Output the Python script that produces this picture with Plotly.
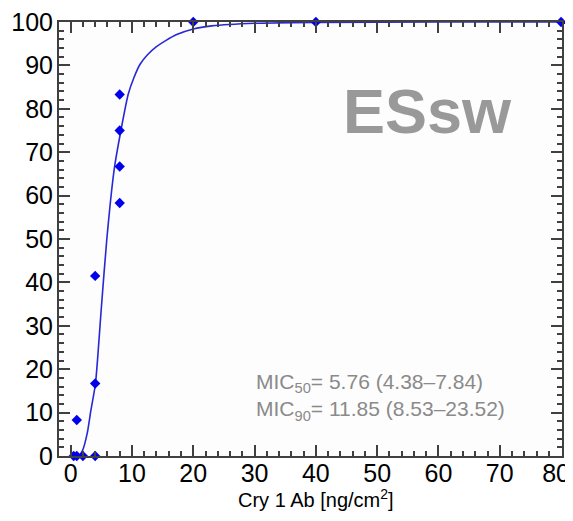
import plotly.graph_objects as go

# Observed data
conc = [0.5, 1, 1, 2, 4, 4, 4, 8, 8, 8, 8, 20, 40, 80]
mortality = [0, 0, 8.3, 0, 0, 16.7, 41.5, 58.3, 66.7, 75, 83.3, 100, 100, 100]

# Fitted curve
fit_x = [0.5, 1.0, 1.4, 1.95, 2.7, 3.3, 4.05, 5.0, 5.9, 7.1, 8.2, 9.4, 10.3, 11.3, 12.5, 14.0, 15.5, 17.3, 20, 23, 30, 40, 60, 80]
fit_y = [0, 0, 0.2, 1.3, 5.2, 10.5, 16.7, 34, 50, 66, 75, 83.4, 87.1, 90.2, 92.4, 94.3, 95.7, 97.1, 98.4, 99.1, 99.7, 99.9, 100, 100]

x_ticks = [0, 10, 20, 30, 40, 50, 60, 70, 80]
x_ticklabels = ["0", "10", "20", "30", "40", "50", "60", "70", "80\u2009\u2009"]
y_ticks = [0, 10, 20, 30, 40, 50, 60, 70, 80, 90, 100]

title_text = "ESsw"
mic_text = "MIC<sub>50</sub>= 5.76 (4.38–7.84)<br>MIC<sub>90</sub>= 11.85 (8.53–23.52)"
x_title = "Cry 1 Ab [ng/cm<sup>2</sup>]"

FONT = "Liberation Sans, Arial, sans-serif"

fig = go.Figure()
fig.add_trace(go.Scatter(
    x=fit_x, y=fit_y, mode="lines",
    line=dict(color="rgb(40,40,215)", width=1.6, shape="spline", smoothing=0.6),
    hoverinfo="skip", cliponaxis=False,
))
fig.add_trace(go.Scatter(
    x=conc, y=mortality, mode="markers",
    marker=dict(symbol="diamond", size=8, color="rgb(0,0,235)", line=dict(width=0)),
    cliponaxis=False,
))

axis_common = dict(
    showline=True, linecolor="#404040", linewidth=2, mirror="ticks",
    ticks="inside", ticklen=11, tickwidth=2, tickcolor="#404040",
    showgrid=False, zeroline=False, automargin=False,
    tickfont=dict(family=FONT, size=25, color="black"),
)

fig.update_xaxes(
    range=[-1.9, 80.15], tickvals=x_ticks, ticktext=x_ticklabels,
    minor=dict(dtick=2, tick0=0, ticks="inside", ticklen=5, tickwidth=1.5, tickcolor="#404040"),
    ticklabelstandoff=-6, ticklabeloverflow="allow",
    **axis_common,
)
fig.update_yaxes(
    range=[0, 100], tickvals=y_ticks, ticktext=[str(v) for v in y_ticks],
    minor=dict(dtick=2, tick0=0, ticks="inside", ticklen=5, tickwidth=1.5, tickcolor="#404040"),
    ticklabelstandoff=-1, ticklabeloverflow="allow",
    **axis_common,
)

fig.add_annotation(
    x=58.2, y=79.4, xref="x", yref="y", text="<b>" + title_text + "</b>", showarrow=False,
    font=dict(family=FONT, size=63, color="#999999"), xanchor="center", yanchor="middle",
)
fig.add_annotation(
    x=29.9, y=13.6, xref="x", yref="y", text=mic_text, showarrow=False, align="left",
    font=dict(family=FONT, size=21, color="#8a8a8a"), xanchor="left", yanchor="middle",
)
fig.add_annotation(
    x=0.5, y=0, xref="paper", yref="paper", text=x_title, showarrow=False,
    font=dict(family=FONT, size=20, color="black"), xanchor="center", yanchor="middle",
    xshift=5, yshift=-42,
)

# page body adds an 8px margin, so the figure is sized to fit inside the window
fig.update_layout(
    width=565, height=513,
    margin=dict(l=51, r=11, t=14, b=65),
    paper_bgcolor="white", plot_bgcolor="#fdfdfd",
    showlegend=False,
)

fig.write_html("out.html")
